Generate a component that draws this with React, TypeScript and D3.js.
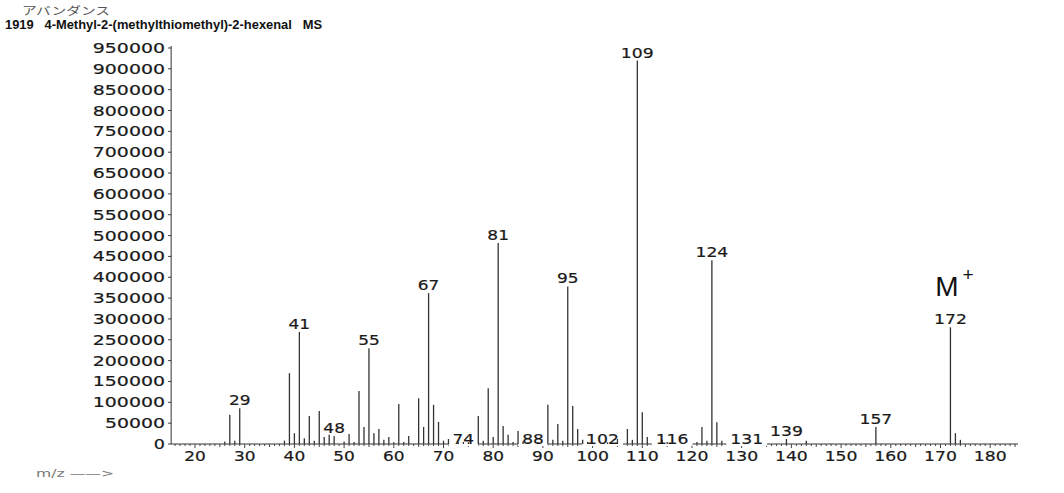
import React from "react";
import * as d3 from "d3";

const mzValues = [26, 27, 28, 29, 38, 39, 40, 41, 42, 43, 44, 45, 46, 47, 48, 50, 51, 52, 53, 54, 55, 56, 57, 58, 59, 60, 61, 62, 63, 65, 66, 67, 68, 69, 70, 71, 73, 74, 75, 77, 78, 79, 80, 81, 82, 83, 84, 85, 86, 87, 89, 91, 92, 93, 94, 95, 96, 97, 98, 99, 103, 105, 107, 108, 109, 110, 111, 114, 115, 121, 122, 123, 124, 125, 126, 139, 143, 157, 172, 173, 174];
const intensities = [6000, 70000, 8000, 86000, 8000, 170000, 26000, 269000, 14000, 67000, 8000, 79000, 17000, 22000, 19000, 6000, 24000, 5000, 127000, 41000, 230000, 26000, 36000, 10000, 17000, 4000, 96000, 5000, 19000, 110000, 41000, 362000, 94000, 53000, 8000, 12000, 4000, 5000, 4000, 67000, 8000, 134000, 17000, 482000, 43000, 22000, 5000, 31000, 6000, 4000, 5000, 94000, 10000, 48000, 8000, 378000, 91000, 36000, 10000, 5000, 4000, 12000, 36000, 10000, 920000, 76000, 17000, 10000, 5000, 5000, 41000, 8000, 441000, 52000, 8000, 12000, 8000, 41000, 280000, 26000, 10000];
const peakLabels = [29, 41, 48, 55, 67, 74, 81, 88, 95, 102, 109, 116, 124, 131, 139, 157, 172];
const yTicks = d3.range(0, 950001, 50000);
const xTicks = d3.range(20, 181, 10);
const titleText = "1919   4-Methyl-2-(methylthiomethyl)-2-hexenal   MS";
const headerText = "アバンダンス";
const xAxisName = "m/z ——>";

const x = d3.scaleLinear().domain([20, 180]).range([195, 990.2]);
const y = d3.scaleLinear().domain([0, 950000]).range([444, 48]);

const NUM_FONT = "'DejaVu Sans', sans-serif";

export default function App() {
  const intensityOf = (m: number) => {
    const i = mzValues.indexOf(m);
    return i >= 0 ? intensities[i] : 0;
  };
  const xMinorTicks = d3.range(16, 186, 1);
  const axisLeft = x(15.2);
  const axisRight = x(185.6);
  const base = y(0);

  const numText = (key: string, tx: number, ty: number, s: string, perChar: number, anchor: string) => (
    <text key={key} x={tx} y={ty} textAnchor={anchor} fontFamily={NUM_FONT} fontSize={13.5} fill="#1a1a1a"
      stroke="#1a1a1a" strokeWidth={0.2}
      textLength={s.length * perChar - 1} lengthAdjust="spacingAndGlyphs">{s}</text>
  );

  const labelInfo = peakLabels.map((m) => {
    const top = y(intensityOf(m));
    const onAxis = top - 3 > 437;
    const by = onAxis ? 444 : top - 3;
    const s = String(m);
    const w = s.length * 11.3 - 1;
    const pad = onAxis ? 4 : 2;
    return { m, by, s, w, pad, onAxis };
  });

  return (
    <svg width={1064} height={493} style={{ position: "absolute", left: 0, top: 0, background: "#fff" }}>
      <rect x={0} y={0} width={1064} height={493} fill="#fff" />
      {/* header */}
      <text x={22} y={15} fontFamily="'Noto Sans CJK JP', sans-serif" fontSize={11} fill="#555" textLength={88} lengthAdjust="spacingAndGlyphs">{headerText}</text>
      <text x={5} y={29} fontFamily="'Liberation Sans', Arial, sans-serif" fontSize={12} fontWeight="bold" fill="#111" style={{ whiteSpace: "pre" }} textLength={317} lengthAdjust="spacingAndGlyphs">{titleText}</text>
      <text x={36} y={477} fontFamily="'DejaVu Sans', sans-serif" fontSize={11} fill="#777" textLength={78} lengthAdjust="spacingAndGlyphs">{xAxisName}</text>

      {/* y axis */}
      <line x1={axisLeft} x2={axisLeft} y1={base} y2={y(950000) - 2} stroke="#333" strokeWidth={1} />
      {yTicks.map((t) => (
        <g key={"yt" + t}>
          <line x1={axisLeft - 3} x2={axisLeft} y1={y(t)} y2={y(t)} stroke="#333" strokeWidth={1} />
          {numText("ytl" + t, 165, y(t) + 5, String(t), 12.2, "end")}
        </g>
      ))}

      {/* x axis */}
      <line x1={axisLeft} x2={axisRight} y1={base} y2={base} stroke="#333" strokeWidth={1} />
      {xMinorTicks.map((t) => (
        <line key={"xm" + t} x1={x(t)} x2={x(t)} y1={base} y2={base + (t % 10 === 0 ? 4 : t % 5 === 0 ? 3 : 2)} stroke="#444" strokeWidth={1} />
      ))}
      {xTicks.map((t) => numText("xt" + t, x(t), 461, String(t), 11.3, "middle"))}

      {/* label backgrounds (under peaks) */}
      {labelInfo.map((d) => (
        <rect key={"bg" + d.m} x={x(d.m) - d.w / 2 - d.pad} y={d.by - 11} width={d.w + d.pad * 2} height={d.onAxis ? 13 : 12} fill="#fff" />
      ))}

      {/* peaks */}
      {mzValues.map((m, i) => (
        <line key={"p" + m} x1={x(m)} x2={x(m)} y1={base} y2={y(intensities[i])} stroke="#333" strokeWidth={1.3} />
      ))}

      {/* peak labels */}
      {labelInfo.map((d) => numText("lt" + d.m, x(d.m), d.by, d.s, 11.3, "middle"))}

      {/* molecular ion marker */}
      <text x={947} y={296} textAnchor="middle" fontFamily="'Liberation Sans', Arial, sans-serif" fontSize={28} fill="#111">M</text>
      <text x={968} y={281} textAnchor="middle" fontFamily="'Liberation Sans', Arial, sans-serif" fontSize={19} fill="#111">+</text>
    </svg>
  );
}
